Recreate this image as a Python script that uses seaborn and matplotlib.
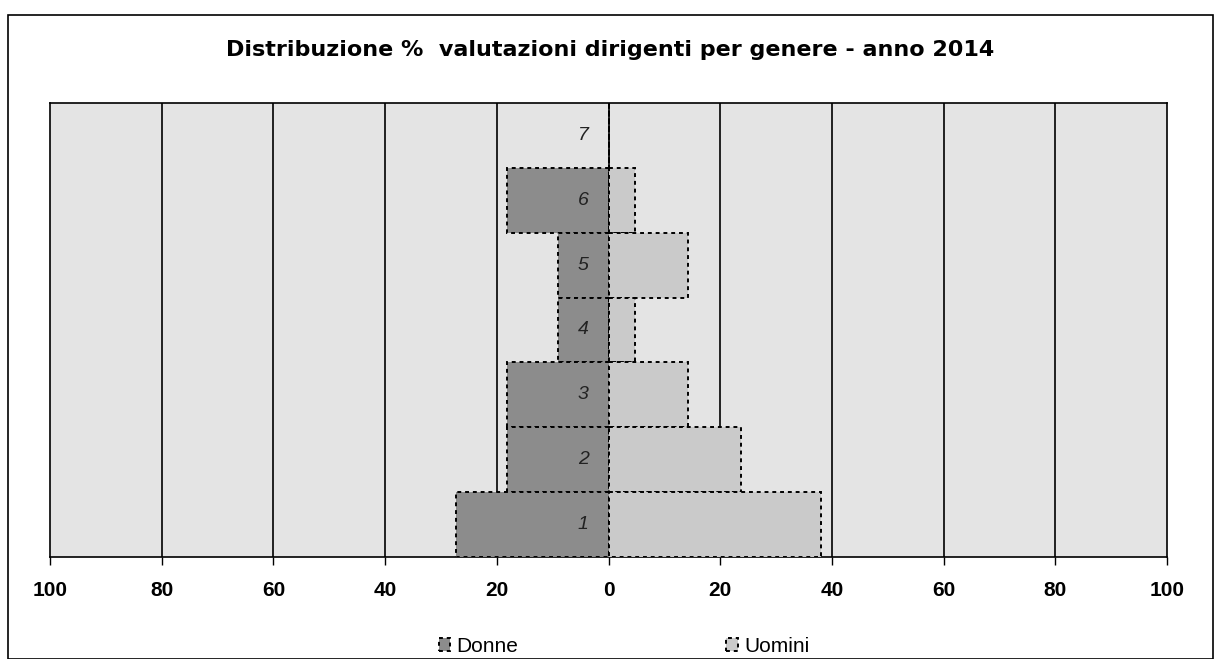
import matplotlib
matplotlib.use("Agg")
import matplotlib.pyplot as plt
from matplotlib.patches import Rectangle
import seaborn as sns
import pandas as pd

# data (% per valutazione, 1 = bottom)
valutazioni = ["1", "2", "3", "4", "5", "6", "7"]
donne = [27.3, 18.2, 18.2, 9.1, 9.1, 18.2, 0.0]
uomini = [38.1, 23.8, 14.3, 4.8, 14.3, 4.8, 0.0]
xticks = [-100, -80, -60, -40, -20, 0, 20, 40, 60, 80, 100]

df = pd.concat([
    pd.DataFrame({"valutazione": valutazioni, "valore": [-v for v in donne], "genere": "Donne"}),
    pd.DataFrame({"valutazione": valutazioni, "valore": uomini, "genere": "Uomini"}),
])

sns.set_style("white")
plt.rcParams["font.family"] = ["Liberation Sans", "DejaVu Sans"]
plt.rcParams["text.color"] = "black"
plt.rcParams["xtick.color"] = "black"

fig = plt.figure(figsize=(12.15, 6.59), dpi=100)
ax = fig.add_axes([50 / 1215, 1 - 557 / 659, (1167 - 50) / 1215, (557 - 103) / 659])
ax.set_facecolor("#e4e4e4")

order = valutazioni[::-1]
sns.barplot(data=df, x="valore", y="valutazione", hue="genere", order=order,
            hue_order=["Donne", "Uomini"], palette={"Donne": "#8c8c8c", "Uomini": "#cacaca"},
            dodge=False, width=1.0, orient="h", edgecolor="black", linewidth=1.4,
            linestyle=(0, (2, 2)), ax=ax, zorder=3)

ax.set_xlim(-100, 100)
ax.set_ylim(len(order) - 0.5, -0.5)
ax.set_xticks(xticks)
ax.set_xticklabels([str(abs(t)) for t in xticks], fontsize=15, fontweight="bold", color="black")
ax.tick_params(axis="x", direction="out", length=6, width=1, pad=11, bottom=True, color="black")
ax.tick_params(axis="y", left=False, labelleft=False)
ax.set_xlabel("")
ax.set_ylabel("")
for t in xticks[1:-1]:
    ax.axvline(t, color="black", lw=1.2, zorder=1)
for s in ax.spines.values():
    s.set_color("black")
    s.set_linewidth(1.2)

# numbers of valutazione inside the bars
for i, lab in enumerate(order):
    ax.text(-4.5, i, lab, ha="center", va="center", fontsize=14, color="#222222",
            style="italic", zorder=5)

fig.text(0.502, 1 - 50 / 659, "Distribuzione %  valutazioni dirigenti per genere - anno 2014",
         ha="center", va="center", fontsize=16, fontweight="bold", family="DejaVu Sans",
         color="black")

sns.move_legend(ax, "upper center", bbox_to_anchor=((624 - 50) / 1117, -0.135), ncol=2,
                frameon=False, title=None, fontsize=15, columnspacing=10, handlelength=0.55,
                handleheight=0.55, handletextpad=0.3)
for txt in ax.get_legend().get_texts():
    txt.set_color("black")

# outer frame of the chart
fig.patches.append(Rectangle((8 / 1215, 0), (1213 - 8) / 1215, (659 - 15) / 659,
                             transform=fig.transFigure, fill=False, edgecolor="black",
                             lw=1.2))

fig.savefig("out.png", dpi=100)
